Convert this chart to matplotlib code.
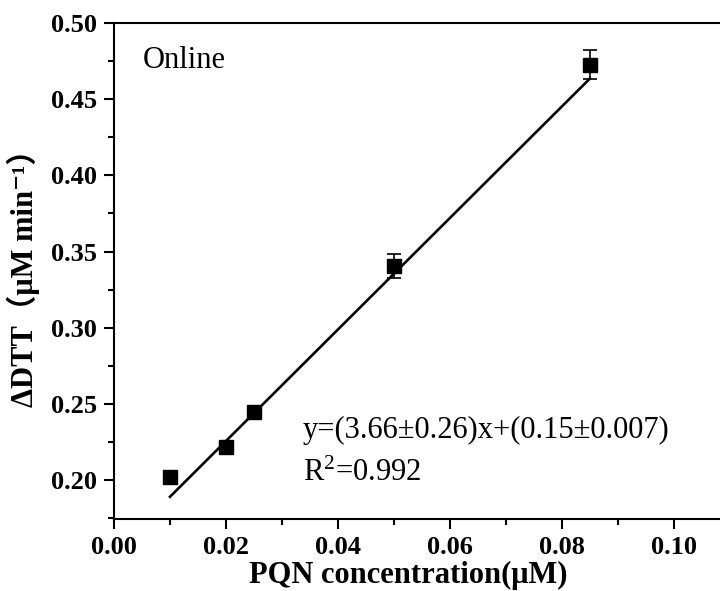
import matplotlib
matplotlib.use("Agg")
import matplotlib.pyplot as plt
from matplotlib.ticker import MultipleLocator
import numpy as np

plt.rcParams['font.family'] = ['Liberation Serif', 'Noto Sans CJK SC', 'DejaVu Serif']
plt.rcParams['mathtext.fontset'] = 'custom'
plt.rcParams['mathtext.rm'] = 'Liberation Serif'
plt.rcParams['mathtext.it'] = 'Liberation Serif:italic'
plt.rcParams['mathtext.bf'] = 'Liberation Serif:bold'

# data
conc = [0.010, 0.020, 0.025, 0.050, 0.085]
dtt = [0.2022, 0.2216, 0.2450, 0.3405, 0.4725]
dtt_err = [0.001, 0.002, 0.002, 0.0078, 0.0095]

slope = 3.66
intercept = 0.1525
fit_range = [0.010, 0.085]

eq_text = "y=(3.66\u00b10.26)x+(0.15\u00b10.007)"
r2_text = "R$^2$=0.992"
panel_text = "Online"

fig = plt.figure(figsize=(7.2, 5.91), dpi=100)
ax = fig.add_axes([114 / 720, 1 - 519 / 591, (730 - 114) / 720, (519 - 23) / 591])

xf = np.array(fit_range)
ax.plot(xf, slope * xf + intercept, color='black', lw=1.9, zorder=2)
ax.errorbar(conc, dtt, yerr=dtt_err, fmt='s', color='black', ms=10,
            elinewidth=1.2, capsize=5, capthick=1.2, zorder=3)

ax.set_xlim(0, 0.11)
ax.set_ylim(0.1745, 0.50)
ax.xaxis.set_minor_locator(MultipleLocator(0.01))
ax.yaxis.set_minor_locator(MultipleLocator(0.025))
ax.set_xticks(np.arange(0, 0.101, 0.02))
ax.set_xticklabels(["%.2f" % v for v in np.arange(0, 0.101, 0.02)])
ax.set_yticks(np.arange(0.20, 0.501, 0.05))
ax.set_yticklabels(["%.2f" % v for v in np.arange(0.20, 0.501, 0.05)])

for s in ax.spines.values():
    s.set_linewidth(1.5)
ax.spines['right'].set_visible(False)
ax.tick_params(which='both', direction='out', width=1.5, top=False, right=False)
ax.tick_params(which='major', length=7, labelsize=19, pad=5)
ax.tick_params(which='minor', length=4)
for lab in ax.get_xticklabels() + ax.get_yticklabels():
    lab.set_fontweight('bold')

ax.set_xlabel("PQN concentration(\u03bcM)", fontsize=22, fontweight='bold', labelpad=0)
ax.xaxis.set_label_coords((408 - 114) / (730 - 114), -0.085)
ax.set_ylabel("\u0394DTT\uff08\u03bcM min\u207b\u00b9\uff09", fontsize=22, fontweight='bold', labelpad=8)

ax.text(0.0052, 0.4705, panel_text, fontsize=22, ha='left', va='baseline')
ax.text(0.0337, 0.2277, eq_text, fontsize=22, ha='left', va='baseline')
ax.text(0.0337, 0.1993, r2_text, fontsize=22, ha='left', va='baseline')

fig.savefig("out.png", dpi=100)
